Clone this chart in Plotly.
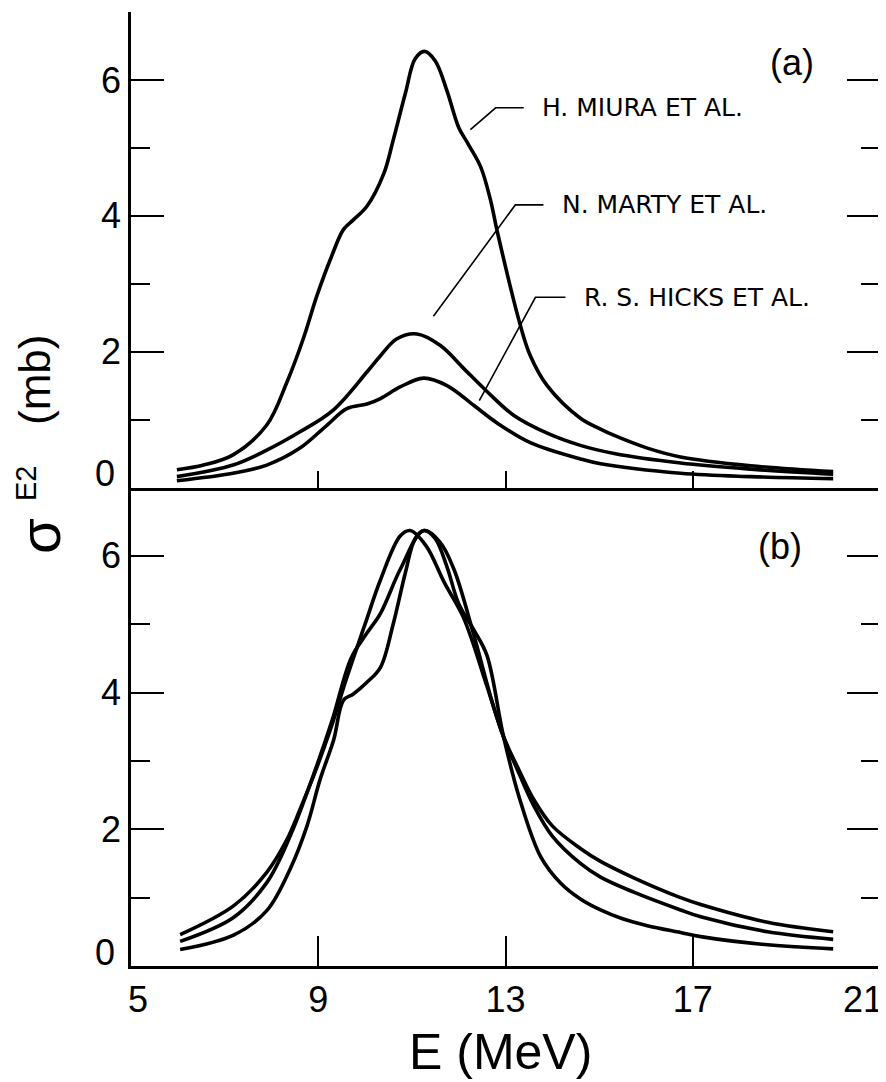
import plotly.graph_objects as go

# panel (a): E2 strength distributions as published
miura_e = [5.98, 6.55, 7.18, 7.9, 8.33, 8.68, 8.97, 9.26, 9.54, 9.75, 10.04, 10.4, 10.6, 10.86, 11.07,
           11.27, 11.5, 11.75, 12.0, 12.2, 12.47, 12.68, 12.83, 13.32, 13.53, 13.89, 14.6, 15.03,
           15.31, 16.03, 16.74, 18.24, 20.0]
miura_s = [0.26, 0.33, 0.48, 0.92, 1.55, 2.19, 2.82, 3.36, 3.8, 3.94, 4.14, 4.62, 5.11, 5.8, 6.31,
           6.42, 6.28, 5.84, 5.3, 5.06, 4.72, 4.23, 3.75, 2.38, 1.94, 1.5, 1.02, 0.86,
           0.77, 0.58, 0.45, 0.32, 0.235]

marty_e = [5.98, 7.18, 7.9, 8.61, 9.32, 10.04, 10.33, 10.68, 11.11, 11.61, 12.11, 12.61, 13.18,
           13.89, 14.6, 15.32, 16.74, 18.24, 20.0]
marty_s = [0.16, 0.33, 0.55, 0.82, 1.14, 1.7, 1.94, 2.19, 2.26, 2.09, 1.75, 1.41, 1.06,
           0.8, 0.62, 0.5, 0.36, 0.27, 0.195]

hicks_e = [5.98, 7.18, 7.9, 8.61, 9.19, 9.61, 10.04, 10.33, 10.75, 11.25, 11.75, 12.32, 12.82,
           13.53, 14.6, 15.03, 16.74, 18.24, 20.0]
hicks_s = [0.10, 0.21, 0.33, 0.58, 0.92, 1.16, 1.23, 1.31, 1.48, 1.61, 1.5, 1.21, 0.95,
           0.66, 0.42, 0.35, 0.21, 0.16, 0.13]

# panel (b): the same three curves scaled to a common peak
miura_e_b = [6.05, 7.19, 7.9, 8.4, 8.76, 9.04, 9.33, 9.54, 9.75, 10.04, 10.33, 10.6, 10.86, 11.07,
             11.27, 11.5, 11.75, 12.0, 12.32, 12.6, 12.96, 13.3, 13.75, 14.18, 14.6, 15.03, 15.5,
             16.03, 16.74, 17.17, 18.6, 20.0]
miura_s_b = [0.24, 0.45, 0.81, 1.42, 2.05, 2.73, 3.31, 3.89, 3.98, 4.15, 4.37, 5.0, 5.75, 6.25,
             6.37, 6.25, 5.84, 5.3, 4.92, 4.55, 3.35, 2.45, 1.6, 1.21, 0.98, 0.82, 0.69,
             0.59, 0.49, 0.43, 0.31, 0.25]

marty_e_b = [6.05, 7.19, 7.9, 8.33, 8.61, 8.9, 9.26, 9.6, 10.0, 10.33, 10.75, 10.96, 11.3,
             11.7, 12.1, 12.6, 12.96, 13.3, 13.6, 14.0, 14.6, 15.03, 15.74, 16.74, 17.17, 18.6,
             20.0]
marty_s_b = [0.46, 0.88, 1.37, 1.85, 2.29, 2.78, 3.46, 4.2, 5.0, 5.65, 6.29, 6.37, 6.15,
             5.6, 5.1, 4.1, 3.35, 2.85, 2.44, 2.05, 1.72, 1.53, 1.29, 1.0, 0.9, 0.64,
             0.5]

hicks_e_b = [6.05, 7.19, 7.9, 8.4, 8.9, 9.3, 9.7, 10.04, 10.33, 10.75, 11.25, 11.6, 11.9,
             12.3, 12.7, 12.96, 13.3, 13.6, 14.0, 14.6, 15.03, 15.74, 16.74, 17.17, 18.6, 20.0]
hicks_s_b = [0.36, 0.71, 1.22, 1.9, 2.8, 3.6, 4.5, 4.87, 5.16, 5.8, 6.37, 6.2, 5.8,
             4.9, 3.9, 3.35, 2.8, 2.35, 1.9, 1.5, 1.3, 1.08, 0.82, 0.72, 0.5, 0.39]

x_ticks = [9, 13, 17]
y_ticks = [2, 4, 6]
y_minor = [1, 3, 5]

labels_a = ["H. MIURA ET AL.", "N. MARTY ET AL.", "R. S. HICKS ET AL."]
# leader lines: label end, elbow, tip (data units of panel a)
leaders = [
    [(13.39, 5.59), (12.79, 5.59), (12.25, 5.27)],
    [(13.81, 4.16), (13.21, 4.16), (11.46, 2.52)],
    [(14.28, 2.80), (13.64, 2.80), (12.44, 1.28)],
]

FONT = "Liberation Sans"
LINE = dict(color="black", width=3.6, shape="spline", smoothing=1.0)

fig = go.Figure()

for e, s in [(miura_e, miura_s), (marty_e, marty_s), (hicks_e, hicks_s)]:
    fig.add_trace(go.Scatter(x=e, y=s, mode="lines", line=LINE, xaxis="x2", yaxis="y2",
                             hoverinfo="skip", showlegend=False))

for e, s in [(miura_e_b, miura_s_b), (marty_e_b, marty_s_b), (hicks_e_b, hicks_s_b)]:
    fig.add_trace(go.Scatter(x=e, y=s, mode="lines", line=LINE, xaxis="x", yaxis="y",
                             hoverinfo="skip", showlegend=False))

for pts, text in zip(leaders, labels_a):
    path = "M " + " L ".join(f"{x} {y}" for x, y in pts)
    fig.add_shape(type="path", path=path, xref="x2", yref="y2",
                  line=dict(color="black", width=1.6))
    fig.add_annotation(x=pts[0][0] + 0.35, y=pts[0][1], xref="x2", yref="y2", text=text,
                       showarrow=False, xanchor="left", yanchor="middle",
                       font=dict(family="DejaVu Sans", size=25, color="black"))

BOX = 2.6
common_x = dict(range=[5, 21], showgrid=False, zeroline=False, showline=True,
                linecolor="black", linewidth=BOX, ticks="inside", tickcolor="black",
                tickwidth=2, tickvals=x_ticks)
common_y = dict(range=[0, 7], showgrid=False, zeroline=False, showline=True,
                linecolor="black", linewidth=BOX, ticks="inside", tickcolor="black",
                tickwidth=2, ticklen=33, mirror="ticks", tickvals=y_ticks,
                tickfont=dict(family=FONT, size=36, color="black"),
                minor=dict(tickvals=y_minor, ticks="inside", ticklen=19, tickwidth=2,
                           tickcolor="black"))

# the page body adds an 8px margin, so the figure is 8px smaller each way
split = (958 - 479.5) / 954

fig.update_layout(
    width=878, height=1074,
    margin=dict(l=123, r=6, t=4, b=116),
    paper_bgcolor="white", plot_bgcolor="white",
    showlegend=False,
    xaxis=dict(common_x, anchor="y", domain=[0, 1], ticklen=30,
               tickfont=dict(family=FONT, size=36, color="black")),
    xaxis2=dict(common_x, anchor="y2", domain=[0, 1], ticklen=17, showticklabels=False),
    xaxis3=dict(common_x, overlaying="x", anchor="y", side="top", ticklen=17,
                showticklabels=False),
    xaxis4=dict(common_x, overlaying="x2", anchor="y2", side="top", ticklen=28,
                showticklabels=False),
    yaxis=dict(common_y, anchor="x", domain=[0, split]),
    yaxis2=dict(common_y, anchor="x2", domain=[split, 1]),
)

# corner and zero labels sit slightly inside, as in the original drawing
for x, shift in [(5, 7), (21, -17)]:
    fig.add_annotation(x=x, y=0, xref="x", yref="y", text=str(x), showarrow=False,
                       xshift=shift, yshift=-33, yanchor="middle",
                       font=dict(family=FONT, size=36, color="black"))
for yr in ["y", "y2"]:
    fig.add_annotation(x=0, y=0, xref="paper", yref=yr, text="0", showarrow=False,
                       xanchor="right", xshift=-14, yshift=14, yanchor="middle",
                       font=dict(family=FONT, size=36, color="black"))

fig.add_annotation(x=19.12, y=6.26, xref="x2", yref="y2", text="(a)", showarrow=False,
                   font=dict(family=FONT, size=36, color="black"))
fig.add_annotation(x=18.87, y=6.13, xref="x", yref="y", text="(b)", showarrow=False,
                   font=dict(family=FONT, size=36, color="black"))


def px_x(p):
    return (p - 131) / 749


def px_y(p):
    return (966 - p) / 954


fig.add_annotation(x=px_x(500), y=px_y(1052), xref="paper", yref="paper",
                   text="E (MeV)", showarrow=False, xanchor="center", yanchor="middle",
                   font=dict(family=FONT, size=50, color="black"))

# y title built from three rotated pieces so each sits where the original has it
for text, cx, cy, size in [("(mb)", 35, 380, 44), ("E2", 26, 484, 29), ("σ", 39, 536, 58)]:
    fig.add_annotation(x=px_x(cx), y=px_y(cy), xref="paper", yref="paper", text=text,
                       showarrow=False, textangle=-90, xanchor="center", yanchor="middle",
                       font=dict(family=FONT, size=size, color="black"))

fig.write_html("out.html")
